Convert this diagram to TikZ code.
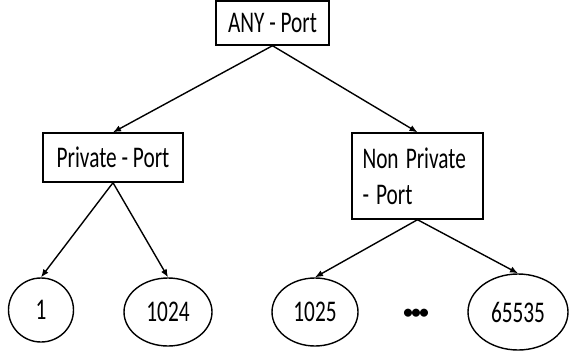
\documentclass[tikz,border=0pt]{standalone}
\usepackage{fontspec}
\usepackage{graphicx}
\setmainfont{Carlito}
\usetikzlibrary{shapes.geometric,arrows.meta}
% narrow the glyphs horizontally
\newcommand{\narrowtxt}[1]{\scalebox{0.71}[1]{#1}}
\tikzset{
  box/.style={draw, line width=1.4pt, rectangle, inner sep=0pt},
  leaf/.style={draw, line width=1.4pt, ellipse, inner sep=0pt},
  link/.style={line width=1.4pt, -{Latex[length=8pt,width=6.5pt]}},
  every node/.style={font=\fontsize{30}{36}\selectfont}
}
\begin{document}
\begin{tikzpicture}[x=1pt,y=-1pt]
  \useasboundingbox (0,0) rectangle (569,351);
  \node[box, minimum width=113pt, minimum height=44pt] (any) at (272.5,23) {\narrowtxt{ANY - Port}};
  \node[box, minimum width=140pt, minimum height=49pt] (priv) at (113,157.5) {\narrowtxt{Private - Port}};
  \node[box, minimum width=131pt, minimum height=86pt, align=left, text width=110pt] (npriv) at (417.5,176)
    {\narrowtxt{Non Private}\\\narrowtxt{- Port}};
  \node[leaf, minimum width=65pt, minimum height=64pt] (p1) at (41,310) {\narrowtxt{1}};
  \node[leaf, minimum width=88pt, minimum height=68pt] (p1024) at (168,312) {\narrowtxt{1024}};
  \node[leaf, minimum width=86pt, minimum height=68pt] (p1025) at (315,312) {\narrowtxt{1025}};
  \node[leaf, minimum width=100pt, minimum height=76pt] (p65535) at (518,312) {\narrowtxt{65535}};
  \node[font=\fontsize{19}{24}\selectfont\bfseries] (dots) at (416,314) {•\kern-1.5pt•\kern-1.5pt•};
  \draw[link] (any.south) -- (priv.north);
  \draw[link] (any.south) -- (npriv.north);
  \draw[link] (priv.south) -- (p1.north);
  \draw[link] (priv.south) -- (p1024.north);
  \draw[link] (npriv.south) -- (p1025.north);
  \draw[link] (npriv.south) -- (p65535.north);
\end{tikzpicture}
\end{document}
